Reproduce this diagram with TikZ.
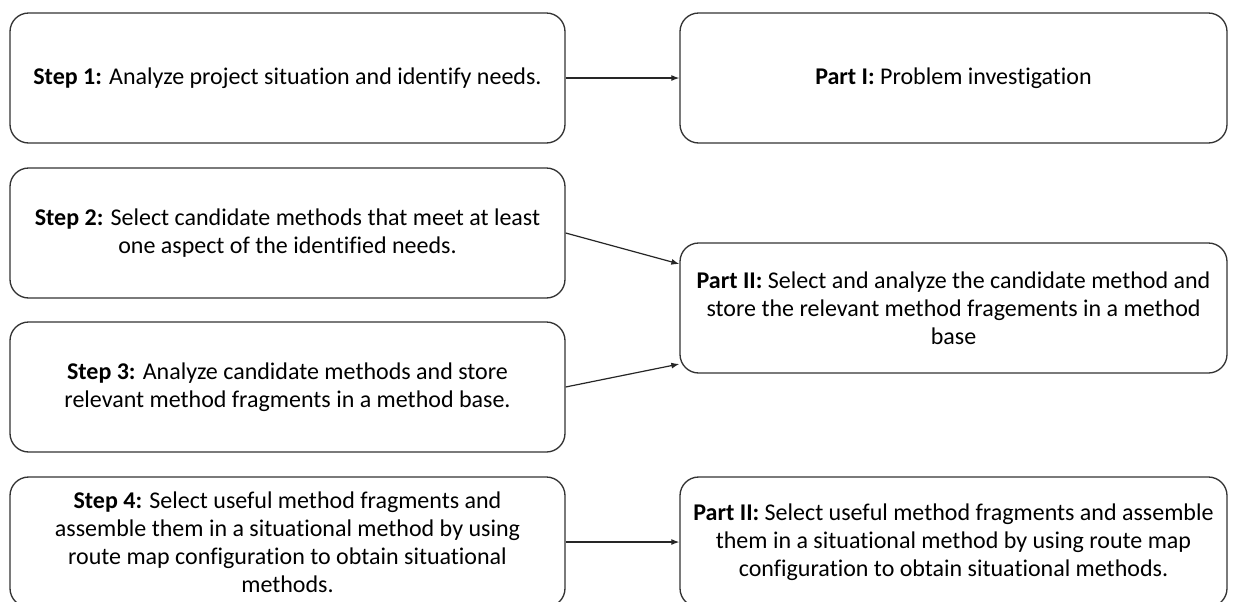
\documentclass[tikz,border=0pt]{standalone}
\usepackage{fontspec}
\setmainfont{Carlito}[Ligatures=NoCommon]
\usetikzlibrary{arrows.meta}
\begin{document}
\begin{tikzpicture}[x=0.75pt,y=-0.75pt,
  box/.style={draw=black!80, line width=1pt, rounded corners=14pt,
    minimum height=97.5pt, align=center, inner sep=0pt,
    font=\fontsize{18}{21}\selectfont},
  lbox/.style={box, minimum width=416.25pt},
  rbox/.style={box, minimum width=410.25pt},
  link/.style={draw=black!85, line width=0.9pt, -{Latex[length=6pt,width=4.5pt]}}]
\useasboundingbox (0,0) rectangle (1234,601);
\clip (0,0) rectangle (1234,601);
% left column: the four steps
\node[lbox] (s1) at (287.5,78)  {\textbf{Step 1:} Analyze project situation and identify needs.};
\node[lbox] (s2) at (287.5,233) {\textbf{Step 2:} Select candidate methods that meet at least\\one aspect of the identified needs.};
\node[lbox] (s3) at (287.5,387) {\textbf{Step 3:} Analyze candidate methods and store\\relevant method fragments in a method base.};
\node[lbox] (s4) at (287.5,542) {\textbf{Step 4:} Select useful method fragments and\\assemble them in a situational method by using\\route map configuration to obtain situational\\methods.};
% right column: the parts
\node[rbox] (p1) at (953.5,78)  {\textbf{Part I:} Problem investigation};
\node[rbox] (p2) at (953.5,308) {\textbf{Part II:} Select and analyze the candidate method and\\store the relevant method fragements in a method\\base};
\node[rbox] (p3) at (953.5,542) {\textbf{Part II:} Select useful method fragments and assemble\\them in a situational method by using route map\\configuration to obtain situational methods.};
% connectors
\draw[link] (s1.east) -- (p1.west);
\draw[link] (s2.east) -- ([yshift=33pt]p2.west);
\draw[link] (s3.east) -- ([yshift=-42pt]p2.west);
\draw[link] (s4.east) -- (p3.west);
\end{tikzpicture}
\end{document}
